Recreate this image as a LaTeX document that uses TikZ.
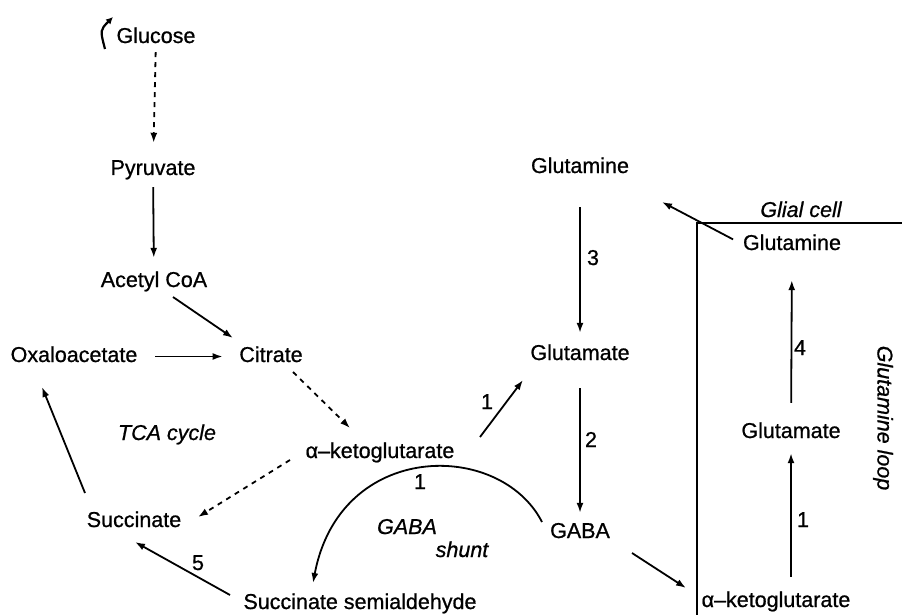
\documentclass[tikz,border=0pt]{standalone}
\usepackage{fontspec}
\setmainfont{Liberation Sans}[RawFeature={embolden=0.8}]
\usetikzlibrary{arrows.meta,calc}

\begin{document}
\begin{tikzpicture}[x=1pt, y=-1pt,
    metab/.style={inner sep=0pt, text height=15pt, text depth=4pt, font=\fontsize{21.5}{24}\selectfont},
    note/.style={metab, font=\fontsize{21.5}{24}\selectfont\itshape},
    arr/.style={line width=1.8pt, -{Latex[length=10pt,width=7pt]}},
    darr/.style={arr, dash pattern=on 5pt off 5pt}]
                \useasboundingbox (0,0) rectangle (902,615);

                % TCA cycle side
                \node[metab] (glucose) at (156,37.5) {Glucose};
                \node[metab] (pyruvate) at (153,169.5) {Pyruvate};
                \node[metab] (acetyl) at (154,281.5) {Acetyl CoA};
                \node[metab] (oxalo) at (74,356.5) {Oxaloacetate};
                \node[metab] (citrate) at (271,356.5) {Citrate};
                \node[note] (tca) at (167,434.5) {TCA cycle};
                \node[metab] (akg) at (380,452.5) {α–ketoglutarate};
                \node[metab] (succ) at (134,521.5) {Succinate};
                \node[metab] (semi) at (360,603.5) {Succinate semialdehyde};
                \node[metab] (five) at (198,564.5) {5};

                \draw[arr, line width=2.2pt, -{Latex[length=7pt,width=7pt]}] ($(glucose)+(-51,11.5)$) .. controls +(-5,-19) .. ($(glucose)+(-43,-20.5)$);
                \draw[darr, shorten <=5pt, shorten >=17pt] (glucose) -- (pyruvate);
                \draw[arr, shorten <=8pt, shorten >=14pt] (pyruvate) -- (acetyl);
                \draw[arr] ($(acetyl)+(19,15.5)$) -- ($(citrate)+(-38,-18.5)$);
                \draw[arr, shorten <=17.5pt, shorten >=16.5pt] (oxalo) -- (citrate);
                \draw[darr] ($(citrate)+(22,15.5)$) -- ($(akg)+(-30,-24.5)$);
                \draw[darr] ($(akg)+(-90,7.5)$) -- ($(succ)+(64,-4.5)$);
                \draw[arr] ($(succ)+(-49,-28.5)$) -- ($(oxalo)+(-32,30.5)$);
                \draw[arr] ($(semi)+(-130,-8.5)$) -- ($(succ)+(1,20.5)$);

                % GABA shunt
                \node[metab] (glnN) at (580,167.5) {Glutamine};
                \node[metab] (gluN) at (580,354.5) {Glutamate};
                \node[metab] (gaba) at (580,532.5) {GABA};
                \node[metab] (three) at (593,259.5) {3};
                \node[metab] (two) at (591,441.5) {2};
                \node[metab] (onediag) at (487,403.5) {1};
                \node[metab] (onecurve) at (420,483.5) {1};
                \node[note] (gabashunt) at (407,528.5) {GABA};
                \node[note] (shunt) at (462,551.5) {shunt};

                \draw[arr] ($(akg)+(100,-15.5)$) -- ($(gluN)+(-57,25.5)$);
                \draw[arr, shorten <=30pt, shorten >=12pt] (glnN) -- (gluN);
                \draw[arr, shorten <=24pt, shorten >=10pt] (gluN) -- (gaba);
                \draw[arr] ($(gaba)+(-38,-10.5)$) .. controls +(-42,-82) and +(27,-143) .. ($(semi)+(-47,-20.5)$);

                % glial cell
                \draw[line width=1.8pt] (697,615) |- (902,223);
                \node[note] (glial) at (801,211.5) {Glial cell};
                \node[metab] (glnG) at (792,244.5) {Glutamine};
                \node[metab] (gluG) at (791,432.5) {Glutamate};
                \node[metab] (akgG) at (776,601.5) {α–ketoglutarate};
                \node[metab] (four) at (800,349.5) {4};
                \node[metab] (oneglia) at (803,521.5) {1};
                \node[note, rotate=-90] (loop) at (883,418) {Glutamine loop};
                \coordinate (glnout) at (662,202);

                \draw[arr] ($(gaba)+(52,20.5)$) -- ($(akgG)+(-90,-13.5)$);
                \draw[arr, shorten <=11pt] (glnG.west) -- (glnout);
                \draw[arr, shorten <=20pt, shorten >=26pt] (gluG) -- (glnG);
                \draw[arr, shorten <=15pt, shorten >=11pt] (akgG.north -| gluG) -- (gluG);
\end{tikzpicture}
\end{document}
